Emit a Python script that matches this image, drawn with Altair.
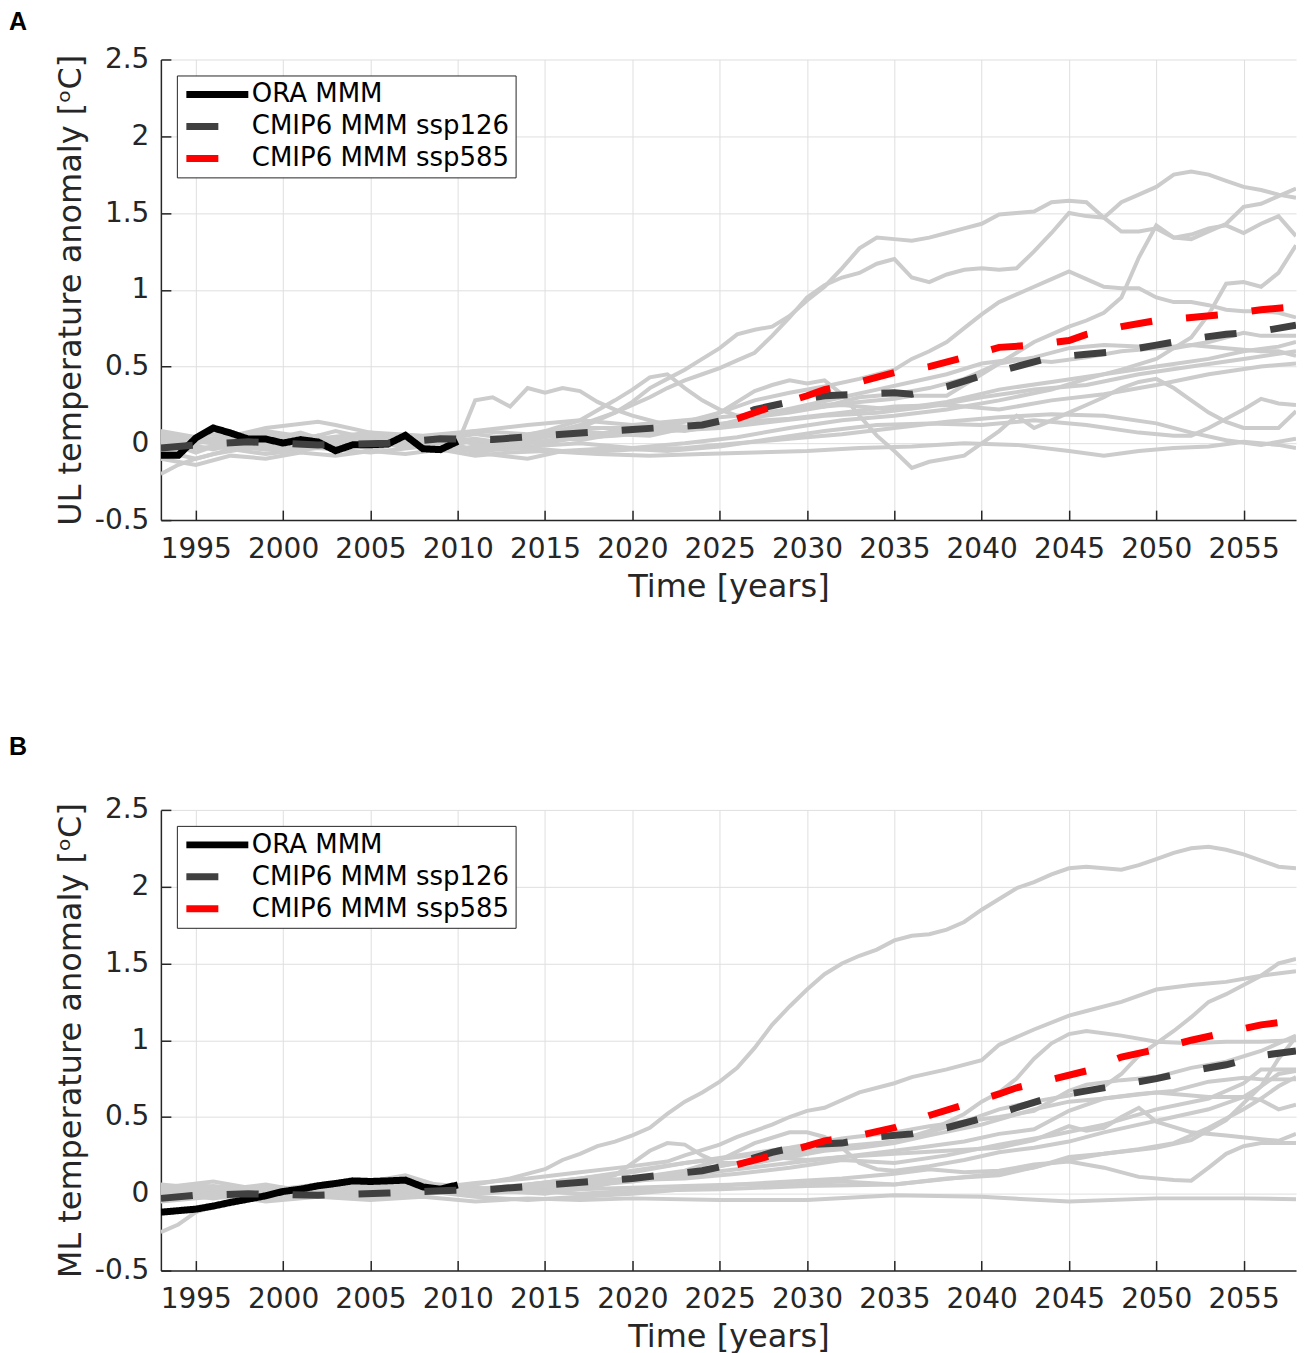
import altair as alt
import pandas as pd

# ---------------- axes / categories ----------------
YEAR_MIN, YEAR_MAX = 1993, 2058
Y_MIN, Y_MAX = -0.5, 2.5
X_TICKS = [1995, 2000, 2005, 2010, 2015, 2020, 2025, 2030, 2035, 2040, 2045, 2050, 2055]
Y_TICKS = [-0.5, 0, 0.5, 1, 1.5, 2, 2.5]
SERIES = ["ORA MMM", "CMIP6 MMM ssp126", "CMIP6 MMM ssp585"]
SERIES_COLORS = ["#000000", "#404040", "#ff0000"]
SERIES_DASHES = [[1, 0], [32, 34], [32, 34]]
X_TITLE = "Time [years]"
Y_TITLE_A = "UL temperature anomaly [ᵒC]"
Y_TITLE_B = "ML temperature anomaly [ᵒC]"

# ---------------- panel A : multi-model means ----------------
a_ora = [(1993, -0.078), (1994, -0.078), (1995, 0.035), (1996, 0.10), (1997, 0.067), (1998, 0.028),
         (1999, 0.028), (2000, 0.002), (2001, 0.024), (2002, 0.009), (2003, -0.048), (2004, -0.009),
         (2005, -0.009), (2006, -0.004), (2007, 0.052), (2008, -0.035), (2009, -0.041), (2010, 0.013)]
a_ssp126 = [(1993, -0.03), (1995, -0.01), (1998, 0.01), (2002, -0.01), (2006, 0.0), (2009, 0.03),
            (2012, 0.025), (2016, 0.06), (2020, 0.09), (2024, 0.12), (2026, 0.17), (2027, 0.22),
            (2029, 0.27), (2031, 0.31), (2033, 0.32), (2035, 0.33), (2036, 0.32), (2038, 0.37),
            (2040, 0.44), (2042, 0.50), (2044, 0.56), (2046, 0.58), (2048, 0.60), (2050, 0.64),
            (2052, 0.68), (2054, 0.71), (2056, 0.73), (2058, 0.77)]
a_ssp585 = [(2026, 0.16), (2028, 0.24), (2030, 0.31), (2031, 0.35), (2033, 0.40), (2035, 0.46),
            (2037, 0.50), (2039, 0.56), (2041, 0.625), (2043, 0.64), (2045, 0.67), (2046, 0.71),
            (2048, 0.76), (2050, 0.80), (2052, 0.82), (2054, 0.84), (2056, 0.87), (2058, 0.89)]

# ---------------- panel A : individual models ----------------
a_m01 = [(1993, 0.05), (1995, 0.0), (1997, 0.06), (1999, -0.02), (2001, 0.03), (2003, -0.04), (2005, 0.02),
         (2007, -0.03), (2009, 0.04), (2011, 0.0), (2013, 0.03), (2015, 0.06), (2017, 0.12), (2019, 0.2),
         (2020, 0.27), (2021, 0.36), (2022, 0.42), (2023, 0.48), (2024, 0.55), (2025, 0.62), (2026, 0.71),
         (2027, 0.74), (2028, 0.76), (2029, 0.83), (2030, 0.93), (2031, 1.02), (2032, 1.14), (2033, 1.27),
         (2034, 1.34), (2035, 1.33), (2036, 1.32), (2037, 1.34), (2038, 1.37), (2039, 1.40), (2040, 1.43),
         (2041, 1.49), (2042, 1.50), (2043, 1.51), (2044, 1.57), (2045, 1.58), (2046, 1.57), (2047, 1.47),
         (2048, 1.38), (2049, 1.38), (2050, 1.40), (2051, 1.34), (2052, 1.36), (2053, 1.40), (2054, 1.42),
         (2055, 1.37), (2056, 1.43), (2057, 1.48), (2058, 1.35)]
a_m02 = [(1993, 0.02), (1995, -0.06), (1997, 0.02), (1999, 0.05), (2001, -0.02), (2003, 0.04), (2005, 0.0),
         (2007, 0.05), (2009, -0.03), (2011, 0.02), (2013, 0.0), (2015, 0.05), (2017, 0.1), (2019, 0.2),
         (2021, 0.3), (2022, 0.36), (2023, 0.41), (2024, 0.45), (2025, 0.49), (2026, 0.54), (2027, 0.59),
         (2028, 0.70), (2029, 0.82), (2030, 0.95), (2031, 1.03), (2032, 1.08), (2033, 1.11), (2034, 1.17),
         (2035, 1.20), (2036, 1.08), (2037, 1.05), (2038, 1.10), (2039, 1.13), (2040, 1.14), (2041, 1.13),
         (2042, 1.14), (2043, 1.25), (2044, 1.37), (2045, 1.50), (2046, 1.48), (2047, 1.47), (2048, 1.57),
         (2049, 1.62), (2050, 1.67), (2051, 1.75), (2052, 1.77), (2053, 1.75), (2054, 1.71), (2055, 1.67),
         (2056, 1.65), (2057, 1.62), (2058, 1.60)]
a_m03 = [(1993, -0.05), (1995, -0.1), (1997, -0.04), (1999, 0.0), (2001, -0.05), (2003, 0.02), (2005, -0.03),
         (2007, 0.03), (2009, 0.0), (2011, -0.04), (2013, 0.02), (2015, 0.0), (2017, 0.04), (2019, 0.08),
         (2021, 0.1), (2023, 0.14), (2025, 0.2), (2027, 0.28), (2029, 0.33), (2031, 0.37), (2033, 0.42),
         (2035, 0.48), (2036, 0.55), (2037, 0.6), (2038, 0.66), (2039, 0.75), (2040, 0.84), (2041, 0.92),
         (2042, 0.97), (2043, 1.02), (2044, 1.07), (2045, 1.12), (2046, 1.07), (2047, 1.02), (2048, 1.01),
         (2049, 1.01), (2050, 0.95), (2051, 0.92), (2052, 0.92), (2053, 0.90), (2054, 0.87), (2055, 0.86),
         (2056, 0.86), (2057, 0.85), (2058, 0.82)]
a_m04 = [(1993, 0.0), (1995, 0.04), (1997, -0.03), (1999, 0.02), (2001, 0.07), (2003, 0.0), (2005, 0.04),
         (2007, -0.02), (2009, 0.03), (2011, -0.05), (2013, 0.0), (2015, 0.04), (2017, 0.08), (2019, 0.06),
         (2021, 0.1), (2023, 0.08), (2025, 0.12), (2027, 0.18), (2029, 0.22), (2031, 0.25), (2033, 0.27),
         (2035, 0.29), (2036, 0.31), (2038, 0.31), (2040, 0.45), (2042, 0.59), (2043, 0.66), (2044, 0.71),
         (2045, 0.76), (2046, 0.80), (2047, 0.85), (2048, 0.95), (2049, 1.21), (2050, 1.42), (2051, 1.34),
         (2052, 1.33), (2053, 1.38), (2054, 1.43), (2055, 1.54), (2056, 1.56), (2057, 1.61), (2058, 1.66)]
a_m05 = [(1993, 0.03), (1996, -0.04), (1999, 0.05), (2002, 0.0), (2005, 0.06), (2008, 0.0), (2011, 0.03),
         (2014, -0.02), (2017, 0.0), (2020, -0.03), (2023, 0.0), (2026, 0.04), (2029, 0.1), (2032, 0.15),
         (2035, 0.18), (2038, 0.22), (2041, 0.28), (2044, 0.35), (2046, 0.42), (2048, 0.48), (2050, 0.55),
         (2051, 0.62), (2052, 0.69), (2053, 0.84), (2054, 1.04), (2055, 1.05), (2056, 1.02), (2057, 1.11),
         (2058, 1.29)]
a_m06 = [(1993, -0.02), (1995, 0.02), (1997, 0.05), (1999, 0.0), (2001, -0.03), (2003, 0.03), (2005, 0.0),
         (2007, 0.04), (2009, 0.02), (2010, 0.0), (2011, 0.28), (2012, 0.30), (2013, 0.24), (2014, 0.36),
         (2015, 0.33), (2016, 0.36), (2017, 0.34), (2018, 0.27), (2019, 0.22), (2020, 0.18), (2022, 0.12),
         (2024, 0.1), (2026, 0.13), (2028, 0.2), (2030, 0.25), (2032, 0.3), (2034, 0.35), (2036, 0.4),
         (2038, 0.45), (2040, 0.52), (2042, 0.55), (2044, 0.53), (2046, 0.56), (2048, 0.6), (2050, 0.62),
         (2052, 0.64), (2054, 0.62), (2056, 0.60), (2057, 0.60), (2058, 0.57)]
a_m07 = [(1993, 0.06), (1995, 0.03), (1997, 0.0), (1999, 0.06), (2001, 0.02), (2003, 0.08), (2005, 0.03),
         (2007, -0.02), (2009, 0.02), (2011, 0.06), (2013, 0.03), (2015, 0.08), (2017, 0.15), (2019, 0.28),
         (2020, 0.35), (2021, 0.43), (2022, 0.45), (2023, 0.36), (2024, 0.28), (2025, 0.22), (2026, 0.18),
         (2027, 0.17), (2029, 0.2), (2031, 0.24), (2033, 0.3), (2035, 0.32), (2037, 0.36), (2039, 0.42),
         (2041, 0.52), (2043, 0.56), (2045, 0.62), (2047, 0.64), (2049, 0.63), (2051, 0.62), (2053, 0.66),
         (2055, 0.72), (2056, 0.70), (2058, 0.70)]
a_m08 = [(1993, -0.03), (1995, 0.0), (1997, 0.04), (1999, -0.04), (2001, 0.0), (2003, -0.02), (2005, 0.05),
         (2007, 0.0), (2009, -0.05), (2011, -0.02), (2013, 0.03), (2015, 0.05), (2017, 0.02), (2019, 0.06),
         (2021, 0.05), (2023, 0.1), (2025, 0.2), (2026, 0.27), (2027, 0.34), (2028, 0.38), (2029, 0.41),
         (2030, 0.39), (2031, 0.41), (2032, 0.32), (2033, 0.18), (2034, 0.05), (2035, -0.05), (2036, -0.16),
         (2037, -0.12), (2038, -0.1), (2039, -0.08), (2040, 0.0), (2041, 0.08), (2042, 0.18), (2043, 0.1),
         (2044, 0.15), (2045, 0.2), (2046, 0.25), (2047, 0.3), (2048, 0.36), (2049, 0.4), (2050, 0.42),
         (2051, 0.36), (2052, 0.28), (2053, 0.2), (2054, 0.14), (2055, 0.1), (2056, 0.1), (2057, 0.1),
         (2058, 0.21)]
a_m09 = [(1993, -0.1), (1995, -0.14), (1997, -0.08), (1999, -0.1), (2001, -0.06), (2003, -0.08), (2005, -0.05),
         (2007, -0.07), (2009, -0.04), (2011, -0.08), (2013, -0.06), (2015, -0.05), (2018, -0.07), (2021, -0.08),
         (2024, -0.07), (2027, -0.06), (2030, -0.05), (2033, -0.03), (2036, -0.02), (2039, 0.0), (2042, -0.01),
         (2045, -0.05), (2047, -0.08), (2049, -0.05), (2051, -0.03), (2053, -0.02), (2055, 0.01), (2057, -0.01),
         (2058, -0.03)]
a_m10 = [(1993, 0.0), (1996, 0.06), (1999, -0.02), (2002, 0.05), (2005, -0.04), (2008, 0.03), (2011, -0.06),
         (2014, -0.1), (2016, -0.05), (2019, -0.03), (2022, -0.05), (2025, -0.02), (2028, 0.03), (2031, 0.08),
         (2034, 0.12), (2037, 0.13), (2040, 0.12), (2043, 0.15), (2046, 0.12), (2049, 0.07), (2051, 0.05),
         (2052, 0.05), (2053, 0.1), (2054, 0.16), (2055, 0.22), (2056, 0.29), (2057, 0.26), (2058, 0.25)]
a_m11 = [(1993, 0.04), (1996, 0.0), (1999, 0.08), (2002, 0.03), (2005, 0.07), (2008, 0.02), (2011, 0.08),
         (2014, 0.12), (2017, 0.15), (2020, 0.12), (2023, 0.15), (2026, 0.18), (2029, 0.22), (2032, 0.25),
         (2035, 0.22), (2038, 0.27), (2041, 0.35), (2044, 0.4), (2047, 0.45), (2050, 0.5), (2053, 0.55),
         (2055, 0.6), (2057, 0.63), (2058, 0.66)]
a_m12 = [(1993, -0.06), (1996, -0.02), (1999, -0.07), (2002, -0.03), (2005, -0.06), (2008, -0.02), (2011, -0.05),
         (2014, -0.03), (2017, -0.06), (2020, -0.04), (2023, -0.03), (2026, 0.0), (2029, 0.03), (2032, 0.06),
         (2035, 0.1), (2038, 0.14), (2041, 0.17), (2044, 0.19), (2047, 0.18), (2050, 0.13), (2052, 0.07),
         (2054, 0.02), (2056, -0.01), (2058, 0.03)]
a_m13 = [(1993, -0.2), (1994, -0.14), (1995, -0.1), (1996, -0.07), (1998, -0.03), (2000, -0.05), (2002, 0.02),
         (2004, -0.02), (2006, 0.03), (2008, -0.01), (2010, 0.02), (2012, -0.03), (2014, 0.0), (2016, 0.03),
         (2019, 0.05), (2022, 0.08), (2025, 0.1), (2028, 0.14), (2031, 0.18), (2034, 0.2), (2037, 0.24),
         (2040, 0.3), (2043, 0.35), (2046, 0.38), (2049, 0.45), (2052, 0.5), (2055, 0.55), (2058, 0.6)]
a_m14 = [(1993, 0.08), (1996, 0.02), (1999, 0.1), (2002, 0.14), (2003, 0.12), (2005, 0.07), (2008, 0.05),
         (2011, 0.08), (2014, 0.06), (2017, 0.1), (2020, 0.1), (2023, 0.1), (2026, 0.14), (2029, 0.16),
         (2032, 0.2), (2035, 0.24), (2038, 0.25), (2041, 0.22), (2044, 0.28), (2047, 0.32), (2050, 0.38),
         (2053, 0.45), (2056, 0.5), (2058, 0.52)]

# ---------------- panel B : multi-model means ----------------
b_ora = [(1993, -0.12), (1995, -0.10), (1996, -0.08), (1997, -0.056), (1998, -0.035), (1999, -0.013),
         (2000, 0.015), (2001, 0.03), (2002, 0.052), (2003, 0.067), (2004, 0.084), (2005, 0.08),
         (2006, 0.084), (2007, 0.089), (2008, 0.045), (2009, 0.03), (2010, 0.058)]
b_ssp126 = [(1993, -0.03), (1995, -0.01), (1998, 0.0), (2002, -0.01), (2006, 0.005), (2009, 0.02),
            (2012, 0.03), (2016, 0.065), (2020, 0.10), (2024, 0.15), (2026, 0.20), (2028, 0.27),
            (2030, 0.32), (2032, 0.33), (2034, 0.37), (2036, 0.39), (2038, 0.43), (2040, 0.49),
            (2042, 0.56), (2044, 0.63), (2046, 0.67), (2048, 0.71), (2050, 0.75), (2052, 0.80),
            (2054, 0.84), (2056, 0.90), (2058, 0.93)]
b_ssp585 = [(2026, 0.19), (2028, 0.25), (2030, 0.31), (2031, 0.345), (2033, 0.38), (2035, 0.43),
            (2037, 0.51), (2039, 0.58), (2041, 0.65), (2042, 0.69), (2044, 0.745), (2046, 0.80),
            (2048, 0.89), (2050, 0.94), (2052, 1.0), (2054, 1.05), (2056, 1.10), (2058, 1.13)]

# ---------------- panel B : individual models ----------------
b_m01 = [(1993, 0.02), (1995, 0.06), (1997, 0.03), (1999, -0.01), (2001, 0.02), (2003, 0.05), (2005, 0.02),
         (2007, 0.0), (2009, 0.03), (2011, 0.06), (2013, 0.1), (2015, 0.16), (2016, 0.22), (2017, 0.26),
         (2018, 0.31), (2019, 0.34), (2020, 0.38), (2021, 0.43), (2022, 0.52), (2023, 0.60), (2024, 0.66),
         (2025, 0.73), (2026, 0.82), (2027, 0.95), (2028, 1.10), (2029, 1.22), (2030, 1.33), (2031, 1.43),
         (2032, 1.50), (2033, 1.55), (2034, 1.59), (2035, 1.65), (2036, 1.68), (2037, 1.69), (2038, 1.72),
         (2039, 1.77), (2040, 1.85), (2041, 1.92), (2042, 1.99), (2043, 2.03), (2044, 2.08), (2045, 2.12),
         (2046, 2.13), (2047, 2.12), (2048, 2.11), (2049, 2.14), (2050, 2.18), (2051, 2.22), (2052, 2.25),
         (2053, 2.26), (2054, 2.24), (2055, 2.21), (2056, 2.17), (2057, 2.13), (2058, 2.12)]
b_m02 = [(1993, -0.03), (1996, 0.01), (1999, 0.04), (2002, 0.0), (2005, 0.03), (2008, 0.01), (2011, 0.03),
         (2014, 0.05), (2017, 0.08), (2020, 0.1), (2023, 0.14), (2026, 0.2), (2029, 0.26), (2032, 0.3),
         (2035, 0.34), (2037, 0.4), (2039, 0.47), (2041, 0.55), (2043, 0.6), (2045, 0.64), (2047, 0.7),
         (2048, 0.78), (2049, 0.9), (2050, 0.98), (2051, 1.06), (2052, 1.15), (2053, 1.25), (2054, 1.3),
         (2055, 1.36), (2056, 1.42), (2057, 1.50), (2058, 1.53)]
b_m03 = [(1993, 0.03), (1996, 0.0), (1999, 0.05), (2002, 0.02), (2005, 0.06), (2008, 0.03), (2011, 0.07),
         (2014, 0.1), (2017, 0.14), (2020, 0.18), (2022, 0.21), (2023, 0.25), (2025, 0.32), (2026, 0.37),
         (2027, 0.41), (2028, 0.45), (2029, 0.5), (2030, 0.54), (2031, 0.56), (2033, 0.66), (2035, 0.72),
         (2036, 0.76), (2038, 0.81), (2040, 0.87), (2041, 0.97), (2043, 1.07), (2045, 1.16), (2046, 1.19),
         (2048, 1.25), (2050, 1.33), (2052, 1.36), (2054, 1.38), (2056, 1.42), (2058, 1.45)]
b_m04 = [(1993, 0.0), (1996, 0.04), (1999, -0.02), (2002, 0.03), (2005, 0.0), (2008, 0.05), (2011, 0.02),
         (2014, 0.06), (2017, 0.1), (2020, 0.15), (2023, 0.2), (2026, 0.24), (2029, 0.28), (2032, 0.31),
         (2035, 0.34), (2037, 0.41), (2039, 0.52), (2040, 0.6), (2041, 0.66), (2042, 0.75), (2043, 0.88),
         (2044, 0.98), (2045, 1.04), (2046, 1.06), (2048, 1.03), (2050, 0.99), (2052, 0.98), (2054, 0.99),
         (2056, 0.99), (2058, 1.0)]
b_m05 = [(1993, -0.25), (1994, -0.2), (1995, -0.12), (1997, -0.05), (1999, -0.02), (2002, 0.0), (2005, 0.02),
         (2008, 0.0), (2011, 0.03), (2014, 0.06), (2017, 0.1), (2020, 0.14), (2023, 0.2), (2026, 0.25),
         (2029, 0.3), (2032, 0.36), (2035, 0.4), (2037, 0.44), (2039, 0.47), (2041, 0.5), (2043, 0.54),
         (2045, 0.67), (2046, 0.71), (2048, 0.74), (2050, 0.76), (2052, 0.82), (2054, 0.86), (2056, 0.93),
         (2058, 1.03)]
b_m06 = [(1993, 0.05), (1996, 0.02), (1999, 0.06), (2002, 0.0), (2005, 0.04), (2008, 0.07), (2011, 0.04),
         (2014, 0.02), (2017, 0.05), (2020, 0.08), (2023, 0.12), (2026, 0.16), (2029, 0.2), (2032, 0.24),
         (2035, 0.28), (2037, 0.31), (2039, 0.34), (2041, 0.39), (2043, 0.42), (2045, 0.54), (2047, 0.62),
         (2049, 0.65), (2051, 0.67), (2053, 0.73), (2055, 0.755), (2056, 0.745), (2058, 0.745)]
b_m07 = [(1993, 0.04), (1996, 0.08), (1999, 0.02), (2002, 0.05), (2005, 0.08), (2007, 0.12), (2009, 0.05),
         (2012, 0.02), (2015, 0.0), (2018, 0.05), (2020, 0.1), (2022, 0.12), (2024, 0.16), (2026, 0.2),
         (2028, 0.24), (2030, 0.22), (2032, 0.24), (2035, 0.26), (2038, 0.28), (2041, 0.3), (2043, 0.35),
         (2045, 0.44), (2046, 0.41), (2047, 0.43), (2048, 0.5), (2049, 0.56), (2050, 0.47), (2052, 0.4),
         (2054, 0.38), (2056, 0.355), (2057, 0.345), (2058, 0.39)]
b_m08 = [(1993, -0.02), (1996, 0.02), (1999, -0.03), (2002, 0.01), (2005, -0.02), (2008, 0.02), (2011, -0.02),
         (2014, -0.04), (2017, -0.02), (2020, 0.0), (2023, 0.03), (2026, 0.06), (2029, 0.08), (2032, 0.1),
         (2035, 0.13), (2037, 0.16), (2039, 0.14), (2041, 0.15), (2043, 0.19), (2045, 0.21), (2047, 0.17),
         (2049, 0.11), (2051, 0.09), (2052, 0.085), (2053, 0.17), (2054, 0.26), (2055, 0.31), (2056, 0.33),
         (2058, 0.33)]
b_m09 = [(1993, -0.04), (1996, 0.0), (1999, -0.05), (2002, -0.02), (2005, -0.04), (2008, -0.02), (2011, -0.05),
         (2014, -0.03), (2017, -0.04), (2020, -0.03), (2025, -0.04), (2030, -0.04), (2035, -0.01), (2040, -0.02),
         (2045, -0.05), (2050, -0.03), (2055, -0.03), (2058, -0.035)]
b_m10 = [(1993, 0.06), (1996, 0.03), (1999, 0.0), (2002, 0.04), (2005, 0.01), (2008, 0.04), (2011, 0.0),
         (2014, 0.03), (2017, 0.06), (2020, 0.09), (2023, 0.1), (2026, 0.13), (2029, 0.17), (2032, 0.22),
         (2035, 0.2), (2038, 0.25), (2041, 0.32), (2044, 0.38), (2047, 0.45), (2050, 0.55), (2053, 0.62),
         (2055, 0.72), (2056, 0.81), (2058, 0.81)]
b_m11 = [(1993, 0.01), (1996, -0.03), (1999, 0.02), (2002, -0.02), (2005, 0.03), (2008, 0.05), (2011, 0.01),
         (2014, 0.04), (2017, 0.07), (2019, 0.12), (2020, 0.2), (2021, 0.28), (2022, 0.33), (2023, 0.32),
         (2024, 0.25), (2025, 0.2), (2027, 0.2), (2029, 0.24), (2031, 0.28), (2033, 0.3), (2035, 0.33),
         (2037, 0.38), (2040, 0.45), (2043, 0.55), (2045, 0.6), (2047, 0.62), (2050, 0.66), (2053, 0.63),
         (2055, 0.63), (2056, 0.61), (2057, 0.55), (2058, 0.58)]
b_m12 = [(1993, -0.05), (1996, -0.02), (1999, -0.04), (2002, 0.0), (2005, -0.03), (2008, 0.0), (2011, 0.02),
         (2014, 0.04), (2017, 0.06), (2020, 0.1), (2023, 0.15), (2025, 0.22), (2027, 0.33), (2029, 0.4),
         (2030, 0.4), (2031, 0.37), (2032, 0.3), (2033, 0.2), (2034, 0.16), (2035, 0.15), (2037, 0.18),
         (2039, 0.22), (2041, 0.27), (2043, 0.3), (2045, 0.34), (2047, 0.4), (2049, 0.45), (2051, 0.5),
         (2053, 0.55), (2055, 0.63), (2056, 0.7), (2057, 0.78), (2058, 0.8)]
b_m13 = [(1993, 0.02), (1996, 0.05), (1999, 0.02), (2002, 0.06), (2005, 0.03), (2008, 0.06), (2011, 0.03),
         (2014, 0.01), (2017, 0.03), (2020, 0.04), (2023, 0.05), (2026, 0.06), (2029, 0.06), (2032, 0.08),
         (2035, 0.06), (2038, 0.1), (2041, 0.12), (2044, 0.2), (2047, 0.26), (2050, 0.3), (2052, 0.35),
         (2054, 0.48), (2056, 0.7), (2057, 0.88), (2058, 1.02)]
b_m14 = [(1993, -0.01), (1996, 0.03), (1999, 0.0), (2002, 0.03), (2005, 0.0), (2008, 0.03), (2011, 0.0),
         (2014, 0.02), (2017, 0.0), (2020, 0.02), (2025, 0.03), (2030, 0.05), (2035, 0.06), (2040, 0.12),
         (2043, 0.17), (2045, 0.24), (2047, 0.26), (2049, 0.29), (2051, 0.33), (2053, 0.43), (2055, 0.55),
         (2056, 0.62), (2057, 0.70), (2058, 0.76)]

A_MODELS = [a_m01, a_m02, a_m03, a_m04, a_m05, a_m06, a_m07, a_m08, a_m09, a_m10, a_m11, a_m12, a_m13, a_m14]
B_MODELS = [b_m01, b_m02, b_m03, b_m04, b_m05, b_m06, b_m07, b_m08, b_m09, b_m10, b_m11, b_m12, b_m13, b_m14]

# ---------------- styling ----------------
W, H = 1136, 461
INK = "#262626"
GRAY = "#cccccc"
FONT = "DejaVu Sans"


def models_frame(models):
    rows = []
    for i, pts in enumerate(models):
        for yr, v in pts:
            rows.append({"model": f"m{i:02d}", "year": yr, "value": v})
    return pd.DataFrame(rows)


def mmm_frame(ora, s126, s585):
    rows = []
    for name, pts in zip(SERIES, [ora, s126, s585]):
        for yr, v in pts:
            rows.append({"series": name, "year": yr, "value": v})
    return pd.DataFrame(rows)


def panel(models, ora, s126, s585, ytitle, letter, letter_dy):
    xax = alt.Axis(values=X_TICKS, labelExpr="'' + datum.value", title=X_TITLE)
    yax = alt.Axis(values=Y_TICKS, labelExpr="'' + datum.value", title=ytitle)
    x = alt.X("year:Q", scale=alt.Scale(domain=[YEAR_MIN, YEAR_MAX], nice=False, zero=False), axis=xax)
    y = alt.Y("value:Q", scale=alt.Scale(domain=[Y_MIN, Y_MAX], nice=False, zero=False), axis=yax)

    gray = alt.Chart(models_frame(models)).mark_line(color=GRAY, strokeWidth=4, clip=True).encode(
        x=x, y=y, detail="model:N"
    )
    mmm = alt.Chart(mmm_frame(ora, s126, s585)).mark_line(strokeWidth=7, clip=True).encode(
        x=x, y=y,
        color=alt.Color("series:N", scale=alt.Scale(domain=SERIES, range=SERIES_COLORS),
                        legend=alt.Legend(title=None)),
        strokeDash=alt.StrokeDash("series:N", scale=alt.Scale(domain=SERIES, range=SERIES_DASHES),
                                  legend=alt.Legend(title=None)),
    )
    lab = alt.Chart(pd.DataFrame({"t": [letter]})).mark_text(
        font="Liberation Sans", fontWeight="bold", fontSize=25, color="black",
        align="left", baseline="top"
    ).encode(text="t:N", x=alt.value(-152), y=alt.value(letter_dy))
    return alt.layer(gray, mmm, lab).properties(width=W, height=H)


pA = panel(A_MODELS, a_ora, a_ssp126, a_ssp585, Y_TITLE_A, "A", -50)
pB = panel(B_MODELS, b_ora, b_ssp126, b_ssp585, Y_TITLE_B, "B", -75)

chart = alt.vconcat(pA, pB, spacing=131).resolve_scale(
    color="independent", strokeDash="independent"
).properties(padding=0).configure_view(stroke="transparent").configure_axis(
    domainColor=INK, domainWidth=1.5, tickColor=INK, tickWidth=1.5, tickSize={"expr": "-10"},
    gridColor="#dfdfdf", gridWidth=1,
    labelFont=FONT, labelFontSize=28, labelColor=INK,
    titleFont=FONT, titleFontSize=32, titleFontWeight="normal", titleColor=INK,
).configure_axisX(labelPadding=25, titlePadding=8).configure_axisY(
    labelPadding=22, titlePadding=7
).configure_legend(
    orient="top-left", offset=16, padding=6, fillColor="white", strokeColor=INK,
    symbolType="stroke", symbolSize=3844, symbolStrokeWidth=7, clipHeight=26,
    labelFont=FONT, labelFontSize=26, labelColor="black", labelOffset=0, labelLimit=0,
    rowPadding=6, cornerRadius=0,
)

chart.save("out.html", embed_options={"renderer": "svg", "actions": False})
